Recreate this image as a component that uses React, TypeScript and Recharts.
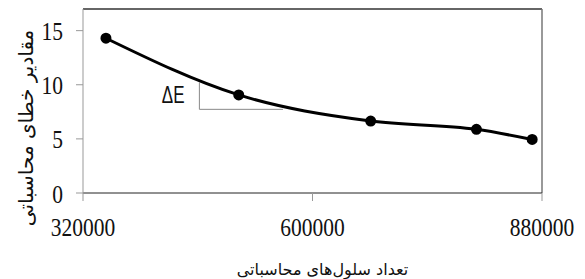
import React from 'react';
import { LineChart, Line, XAxis, YAxis, ReferenceLine, ReferenceDot, Label } from 'recharts';

const cells = [348000, 510000, 671000, 800000, 868000];
const errors = [14.3, 9.06, 6.65, 5.88, 4.95];
const xTicks = [320000, 600000, 880000];
const yTicks = [0, 5, 10, 15];

// triangle marking dE on the curve
const deltaX = [462000, 564000];
const deltaY = [10.21, 7.73];

const data = cells.map((c, i) => ({ cells: c, error: errors[i] }));

const SERIF = '"Liberation Serif", "Times New Roman", serif';
const ARABIC = '"DejaVu Sans", sans-serif';

// the source picture is a bit stretched vertically, so the digits are too
const XTick = (props: any) => {
  const { x, y, payload } = props;
  return (
    <g transform={`translate(${x},${y + 21})`}>
      <text x={0} y={0} transform="scale(1,1.15)" textAnchor="middle" fontFamily={SERIF} fontSize={21.5} fill="#111" style={{ fontFamily: SERIF }}>
        {payload.value}
      </text>
    </g>
  );
};

const YTick = (props: any) => {
  const { x, y, payload } = props;
  return (
    <g transform={`translate(${x - 3},${y + 9.5})`}>
      <text x={0} y={0} transform="scale(1,1.15)" textAnchor="end" fontFamily={SERIF} fontSize={21.5} fill="#111" style={{ fontFamily: SERIF }}>
        {payload.value}
      </text>
    </g>
  );
};

const YTitle = () => {
  const cx = 26;
  const cy = 128;
  return (
    <text x={cx} y={cy} transform={`rotate(-90 ${cx} ${cy})`} textAnchor="middle" dominantBaseline="central"
      fontFamily={ARABIC} fontSize={20} fill="#111" style={{ fontFamily: ARABIC }}>
      مقادیر خطای محاسباتی
    </text>
  );
};

const XTitle = (props: any) => {
  const vb = props.viewBox;
  return (
    <text x={vb.x + vb.width / 2 + 10} y={275} textAnchor="middle"
      fontFamily={ARABIC} fontSize={16} fill="#111" style={{ fontFamily: ARABIC }}>
      تعداد سلول‌های محاسباتی
    </text>
  );
};

const DeltaLabel = (props: any) => {
  const vb = props.viewBox;
  const cx = vb.x + (vb.width || 0) / 2;
  const cy = vb.y + (vb.height || 0) / 2;
  return (
    <g transform={`translate(${cx},${cy + 8})`}>
      <text x={0} y={0} transform="scale(0.74,1)" textAnchor="middle" fontSize={23} fill="#111"
        fontFamily='"Liberation Sans", Arial, sans-serif' style={{ fontFamily: '"Liberation Sans", Arial, sans-serif' }}>
        ΔE
      </text>
    </g>
  );
};

const App = () => {
  return (
    <div style={{ position: 'absolute', left: 0, top: 0, background: '#fff' }}>
      <LineChart width={585} height={279} data={data} margin={{ top: 9, right: 43, bottom: 6, left: 0 }}>
        <XAxis dataKey="cells" type="number" domain={[320000, 880000]} ticks={xTicks} interval={0}
          stroke="#222" tickSize={8} tickMargin={14} tick={<XTick />} height={80}
          tickLine={{ stroke: '#999' }}>
          <Label content={<XTitle />} />
        </XAxis>
        <YAxis type="number" domain={[0, 17]} ticks={yTicks} interval={0} width={83}
          axisLine={{ stroke: '#999' }} tickLine={{ stroke: '#999' }} tickSize={7} tickMargin={10} tick={<YTick />}>
          <Label content={<YTitle />} />
        </YAxis>
        <ReferenceLine y={17} stroke="#333" strokeWidth={1.5} />
        <ReferenceLine x={880000} stroke="#777" strokeWidth={1.5} />
        <ReferenceLine segment={[{ x: deltaX[0], y: deltaY[0] }, { x: deltaX[0], y: deltaY[1] }]} stroke="#888" />
        <ReferenceLine segment={[{ x: deltaX[0], y: deltaY[1] }, { x: deltaX[1], y: deltaY[1] }]} stroke="#888" />
        <ReferenceDot x={430000} y={9.03} r={0} stroke="none" label={<DeltaLabel />} />
        <Line type="monotone" dataKey="error" stroke="#000" strokeWidth={3}
          dot={{ r: 4, fill: '#000', stroke: '#000' }} isAnimationActive={false} />
      </LineChart>
    </div>
  );
};

export default App;
